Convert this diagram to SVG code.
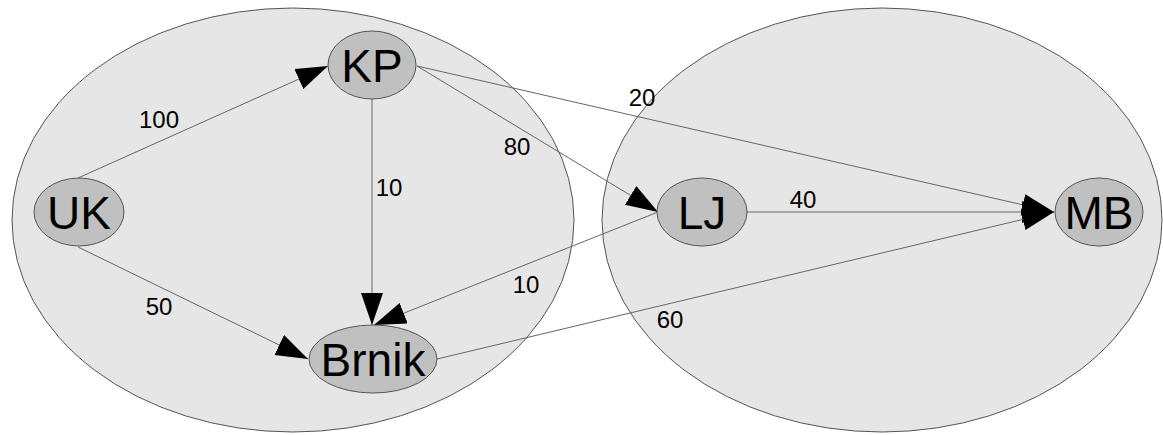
<svg xmlns="http://www.w3.org/2000/svg" width="1163" height="435" viewBox="0 0 1163 435">
  <defs>
    <marker id="arrow" markerUnits="userSpaceOnUse" markerWidth="34" markerHeight="24" refX="32" refY="11" orient="auto">
      <path d="M0,0 L32,11 L0,22 z" fill="#000"/>
    </marker>
    <style>
      .region { fill: #e6e6e6; stroke: #555; stroke-width: 1; }
      .node ellipse { fill: #c0c0c0; stroke: #555; stroke-width: 1; }
      .node text { font-family: "Liberation Sans", Arial, sans-serif; font-size: 46px; fill: #000; text-anchor: middle; }
      .edge { stroke: #666; stroke-width: 1; fill: none; marker-end: url(#arrow); }
      .label { font-family: "Liberation Sans", Arial, sans-serif; font-size: 24px; fill: #000; text-anchor: middle; }
    </style>
  </defs>

  <rect width="1163" height="435" fill="#fff"/>

  <!-- clusters -->
  <g id="cluster-west">
    <ellipse class="region" cx="293" cy="220" rx="281" ry="212"/>
  </g>
  <g id="cluster-east">
    <ellipse class="region" cx="882" cy="220" rx="280" ry="212"/>
  </g>

  <!-- connectors -->
  <g id="connectors">
    <line class="edge" x1="78" y1="178" x2="328" y2="66"/>
    <line class="edge" x1="78" y1="247" x2="308" y2="359"/>
    <line class="edge" x1="372" y1="99" x2="372" y2="325"/>
    <line class="edge" x1="417" y1="66" x2="658" y2="212"/>
    <line class="edge" x1="417" y1="66" x2="1054" y2="212"/>
    <line class="edge" x1="658" y1="212" x2="374" y2="325"/>
    <line class="edge" x1="747" y1="212" x2="1054" y2="212"/>
    <line class="edge" x1="437" y1="359" x2="1054" y2="212"/>

    <text class="label" x="159" y="128">100</text>
    <text class="label" x="159" y="315">50</text>
    <text class="label" x="389" y="196">10</text>
    <text class="label" x="517" y="155">80</text>
    <text class="label" x="642" y="106">20</text>
    <text class="label" x="526" y="293">10</text>
    <text class="label" x="803" y="208">40</text>
    <text class="label" x="670" y="328">60</text>
  </g>

  <!-- nodes -->
  <g id="node-UK" class="node">
    <ellipse cx="79" cy="212" rx="45" ry="34"/>
    <text x="79" y="229">UK</text>
  </g>
  <g id="node-KP" class="node">
    <ellipse cx="372" cy="65" rx="44" ry="34"/>
    <text x="372" y="82">KP</text>
  </g>
  <g id="node-Brnik" class="node">
    <ellipse cx="373" cy="359" rx="64" ry="34"/>
    <text x="373" y="376">Brnik</text>
  </g>
  <g id="node-LJ" class="node">
    <ellipse cx="702" cy="212" rx="45" ry="34"/>
    <text x="702" y="229">LJ</text>
  </g>
  <g id="node-MB" class="node">
    <ellipse cx="1099" cy="212" rx="44" ry="34"/>
    <text x="1099" y="229">MB</text>
  </g>
</svg>
